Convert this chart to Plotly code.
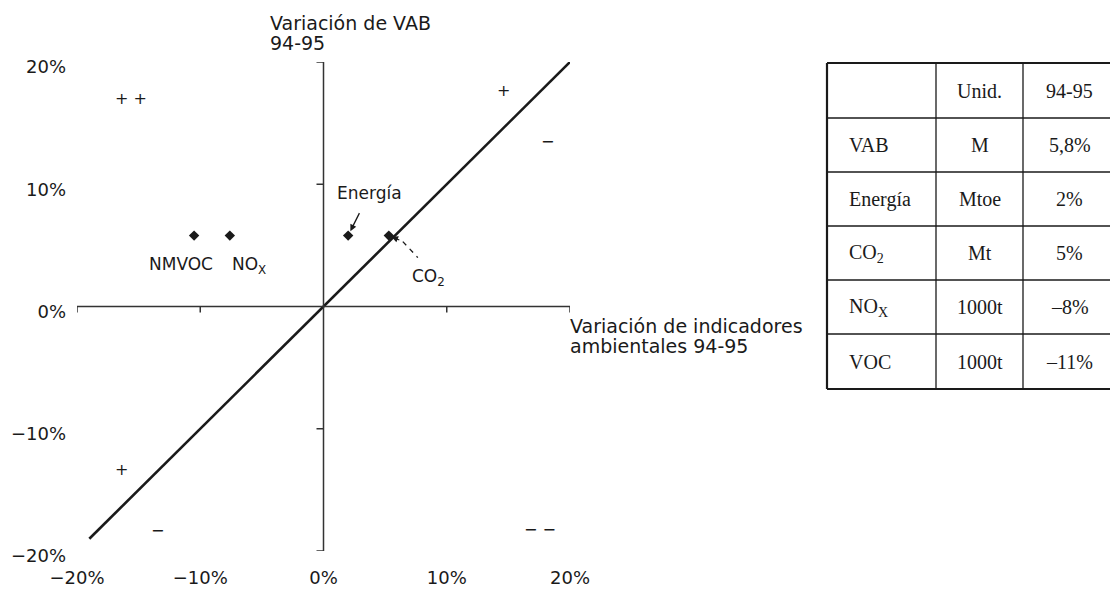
import plotly.graph_objects as go

# Indicadores ambientales (variación 94-95, %) frente a la variación del VAB
indicadores = ["NMVOC", "NO<sub>X</sub>", "Energía", "CO<sub>2</sub>"]
var_indicador = [-10.5, -7.6, 2.0, 5.3]
var_vab = [5.8, 5.8, 5.8, 5.8]

# Diagonal de referencia (desacoplamiento)
diag = [-19, 20]

# Ejes
ticks_pct = [-20, -10, 0, 10, 20]
ticks_txt = ["−20%", "−10%", "0%", "10%", "20%"]

# Tabla
tabla_ind = ["", "VAB", "Energía", "CO<sub>2</sub>", "NO<sub>X</sub>", "VOC"]
tabla_unid = ["Unid.", "M", "Mtoe", "Mt", "1000t", "1000t"]
tabla_val = ["94-95", "5,8%", "2%", "5%", "–8%", "–11%"]

SANS = "DejaVu Sans"
SERIF = "Liberation Serif"
INK = "#1a1a1a"

# page has an 8px body margin; plot area in page pixels
PAGE = 8
L, T, W, H = 77, 62, 493, 489
FIG_W, FIG_H = 1118 - PAGE, 591 - PAGE


def px(x):
    return (x - L) / W


def py(y):
    return (T + H - y) / H


fig = go.Figure()

# diagonal
fig.add_trace(go.Scatter(
    x=diag, y=diag, mode="lines",
    line=dict(color=INK, width=2.6),
    hoverinfo="skip", showlegend=False
))

# puntos
fig.add_trace(go.Scatter(
    x=var_indicador, y=var_vab, mode="markers",
    marker=dict(symbol="diamond", size=8, color=INK),
    text=indicadores, hoverinfo="text", showlegend=False
))

# cross axes through the origin
axis_line = dict(color="#333333", width=1.5)
fig.add_shape(type="line", xref="x", yref="y", x0=ticks_pct[0], x1=ticks_pct[-1],
              y0=0, y1=0, line=axis_line)
fig.add_shape(type="line", xref="x", yref="y", x0=0, x1=0,
              y0=ticks_pct[0], y1=ticks_pct[-1], line=axis_line)
for t in ticks_pct:
    if t == 0:
        continue
    # x ticks pointing down
    fig.add_shape(type="line", xref="x", yref="y", ysizemode="pixel", yanchor=0,
                  x0=t, x1=t, y0=0, y1=-6, line=axis_line)
    # y ticks pointing left
    fig.add_shape(type="line", xref="x", yref="y", xsizemode="pixel", xanchor=0,
                  x0=0, x1=-7, y0=t, y1=t, line=axis_line)

# point labels: (xshift, yshift) in pixels relative to each point
label_offsets = [(-13, -28), (19, -30), (21, 43), (40, -42)]
for name, xv, yv, (dx, dy) in zip(indicadores, var_indicador, var_vab, label_offsets):
    fig.add_annotation(x=xv, y=yv, xref="x", yref="y", text=name, showarrow=False,
                       xshift=dx, yshift=dy, font=dict(family=SANS, size=17, color=INK))

# Energía arrow
fig.add_annotation(x=var_indicador[2], y=var_vab[2], xref="x", yref="y", text="",
                   showarrow=True, ax=12, ay=-24, arrowhead=2, arrowsize=1,
                   arrowwidth=1.3, arrowcolor=INK, standoff=5)
# CO2 leader: small arrowhead + dashed line
fig.add_annotation(x=var_indicador[3], y=var_vab[3], xref="x", yref="y", text="",
                   showarrow=True, ax=12, ay=5, arrowhead=2, arrowsize=1,
                   arrowwidth=1.3, arrowcolor=INK, standoff=3)
fig.add_shape(type="line", xref="x", yref="y", xsizemode="pixel", ysizemode="pixel",
              xanchor=var_indicador[3], yanchor=var_vab[3],
              x0=14, y0=-6, x1=29, y1=-22,
              line=dict(color=INK, width=1.3, dash="5px,5px"))

# signos en los cuadrantes
signs = [("+ +", -15.6, 17.0), ("+", 14.6, 17.7), ("−", 18.2, 13.5),
         ("+", -16.4, -13.3), ("−", -13.5, -18.3), ("− −", 17.6, -18.2)]
for s, sx, sy in signs:
    fig.add_annotation(x=sx, y=sy, xref="x", yref="y", text=s, showarrow=False,
                       font=dict(family=SANS, size=16, color=INK))

# axis titles
title_font = dict(family=SANS, size=19, color=INK)
fig.add_annotation(x=px(268), y=py(10), xref="paper", yref="paper",
                   text="Variación de VAB", showarrow=False,
                   xanchor="left", yanchor="top", font=title_font)
fig.add_annotation(x=px(268), y=py(30), xref="paper", yref="paper",
                   text="94-95", showarrow=False,
                   xanchor="left", yanchor="top", font=title_font)
fig.add_annotation(x=px(568), y=py(313), xref="paper", yref="paper",
                   text="Variación de indicadores", showarrow=False,
                   xanchor="left", yanchor="top", font=title_font)
fig.add_annotation(x=px(568), y=py(333), xref="paper", yref="paper",
                   text="ambientales 94-95", showarrow=False,
                   xanchor="left", yanchor="top", font=title_font)

# tabla
col_x = [827, 936, 1023, 1125]
row_y = [63, 118, 172, 226, 280, 334, 389]
outer = dict(color=INK, width=2.2)
inner = dict(color=INK, width=1.3)
for i, ry in enumerate(row_y):
    fig.add_shape(type="line", xref="paper", yref="paper",
                  x0=px(col_x[0]), x1=px(col_x[-1]), y0=py(ry), y1=py(ry),
                  line=outer if i in (0, len(row_y) - 1) else inner)
for j, cx in enumerate(col_x[:-1]):
    fig.add_shape(type="line", xref="paper", yref="paper",
                  x0=px(cx), x1=px(cx), y0=py(row_y[0]), y1=py(row_y[-1]),
                  line=outer if j == 0 else inner)

cell_font = dict(family=SERIF, size=20, color=INK)
for r in range(len(tabla_ind)):
    yc = py((row_y[r] + row_y[r + 1]) / 2)
    if tabla_ind[r]:
        fig.add_annotation(x=px(col_x[0] + 20), y=yc, xref="paper", yref="paper",
                           text=tabla_ind[r], showarrow=False, xanchor="left",
                           yanchor="middle", font=cell_font)
    fig.add_annotation(x=px((col_x[1] + col_x[2]) / 2), y=yc, xref="paper", yref="paper",
                       text=tabla_unid[r], showarrow=False, xanchor="center",
                       yanchor="middle", font=cell_font)
    fig.add_annotation(x=px(1069.5), y=yc, xref="paper", yref="paper",
                       text=tabla_val[r], showarrow=False, xanchor="center",
                       yanchor="middle", font=cell_font)

tick_font = dict(family=SANS, size=18, color=INK)
fig.update_layout(
    width=FIG_W, height=FIG_H,
    margin=dict(l=L - PAGE, r=FIG_W - (L - PAGE) - W, t=T - PAGE, b=FIG_H - (T - PAGE) - H),
    plot_bgcolor="white", paper_bgcolor="white",
    showlegend=False,
    xaxis=dict(range=[ticks_pct[0], ticks_pct[-1]], tickvals=ticks_pct, ticktext=ticks_txt,
               showgrid=False, zeroline=False, showline=False, ticks="", automargin=False,
               ticklabelstandoff=14, tickfont=tick_font),
    yaxis=dict(range=[ticks_pct[0], ticks_pct[-1]], tickvals=ticks_pct, ticktext=ticks_txt,
               showgrid=False, zeroline=False, showline=False, ticks="", automargin=False,
               ticklabelstandoff=10, ticklabelshift=5, tickfont=tick_font),
)

fig.write_html("out.html")
